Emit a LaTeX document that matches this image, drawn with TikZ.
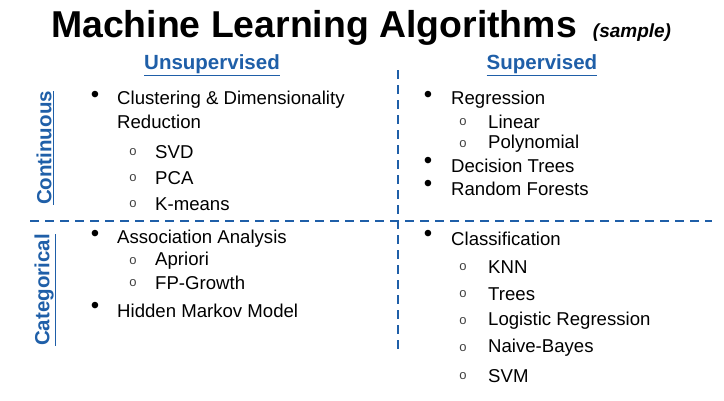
\documentclass[tikz,border=0pt]{standalone}
\usepackage{fontspec}
\setmainfont{Liberation Sans}
\definecolor{mlblue}{HTML}{1F5FA8}
\begin{document}
\begin{tikzpicture}[x=1pt,y=-1pt,
  txt/.style={anchor=west,inner sep=0pt,font=\fontsize{18.6}{20}\selectfont},
  bul/.style={anchor=center,inner sep=0pt,font=\fontsize{24}{26}\selectfont},
  sub/.style={anchor=center,inner sep=0pt,text=black!75,font=\fontsize{13}{14}\selectfont},
  hdr/.style={inner sep=0pt,text=mlblue,font=\fontsize{20.5}{23}\selectfont\bfseries},
  dl/.style={mlblue,line width=1.3pt,dash pattern=on 9pt off 6pt}]
\useasboundingbox (0,0) rectangle (724,400);
\node[inner sep=0pt,font=\fontsize{37.4}{40}\selectfont\bfseries] (title) at (314,28) {Machine Learning Algorithms};
\node[inner sep=0pt,font=\fontsize{19}{22}\selectfont\bfseries\itshape] (sample) at (632,33) {(sample)};
\node[hdr] (uns) at (212,65) {\underline{Unsupervised}};
\node[hdr] (sup) at (542,65) {\underline{Supervised}};
\node[hdr,rotate=90] (cont) at (45,148) {\underline{Continuous}};
\node[hdr,rotate=90] (cat) at (45,290) {\underline{Categorical}};
\coordinate (v1) at (398,70); \coordinate (v2) at (398,352);
\coordinate (h1) at (30,221); \coordinate (h2) at (712,221);
\draw[dl] (v1) -- (v2);
\draw[dl] (h1) -- (h2);
% left top
\node[bul] (b1) at (95,97) {•};
\node[txt] (t1) at (117,100) {Clustering \& Dimensionality};
\node[txt] (t1b) at (117,122) {Reduction};
\node[sub] (o1) at (133,152) {o}; \node[txt] (t2) at (155,152) {SVD};
\node[sub] (o2) at (133,178) {o}; \node[txt] (t3) at (155,178) {PCA};
\node[sub] (o3) at (133,204) {o}; \node[txt] (t4) at (155,204) {K-means};
% left bottom
\node[bul] (b2) at (95,236) {•};
\node[txt] (t5) at (117,239) {Association Analysis};
\node[sub] (o4) at (133,261) {o}; \node[txt] (t6) at (155,261) {Apriori};
\node[sub] (o5) at (133,283) {o}; \node[txt] (t7) at (155,283) {FP-Growth};
\node[bul] (b3) at (95,308) {•};
\node[txt] (t8) at (117,311) {Hidden Markov Model};
% right top
\node[bul] (b4) at (428,97) {•};
\node[txt] (t9) at (451,100) {Regression};
\node[sub] (o6) at (463,122) {o}; \node[txt] (t10) at (488,122) {Linear};
\node[sub] (o7) at (463,144) {o}; \node[txt] (t11) at (488,144) {Polynomial};
\node[bul] (b5) at (428,163) {•};
\node[txt] (t12) at (451,166) {Decision Trees};
\node[bul] (b6) at (428,186) {•};
\node[txt] (t13) at (451,189) {Random Forests};
% right bottom
\node[bul] (b7) at (428,236) {•};
\node[txt] (t14) at (451,239) {Classification};
\node[sub] (o8) at (463,267) {o}; \node[txt] (t15) at (488,267) {KNN};
\node[sub] (o9) at (463,294) {o}; \node[txt] (t16) at (488,294) {Trees};
\node[sub] (o10) at (463,321) {o}; \node[txt] (t17) at (488,321) {Logistic Regression};
\node[sub] (o11) at (463,348) {o}; \node[txt] (t18) at (488,348) {Naive-Bayes};
\node[sub] (o12) at (463,376) {o}; \node[txt] (t19) at (488,376) {SVM};
\end{tikzpicture}
\end{document}
